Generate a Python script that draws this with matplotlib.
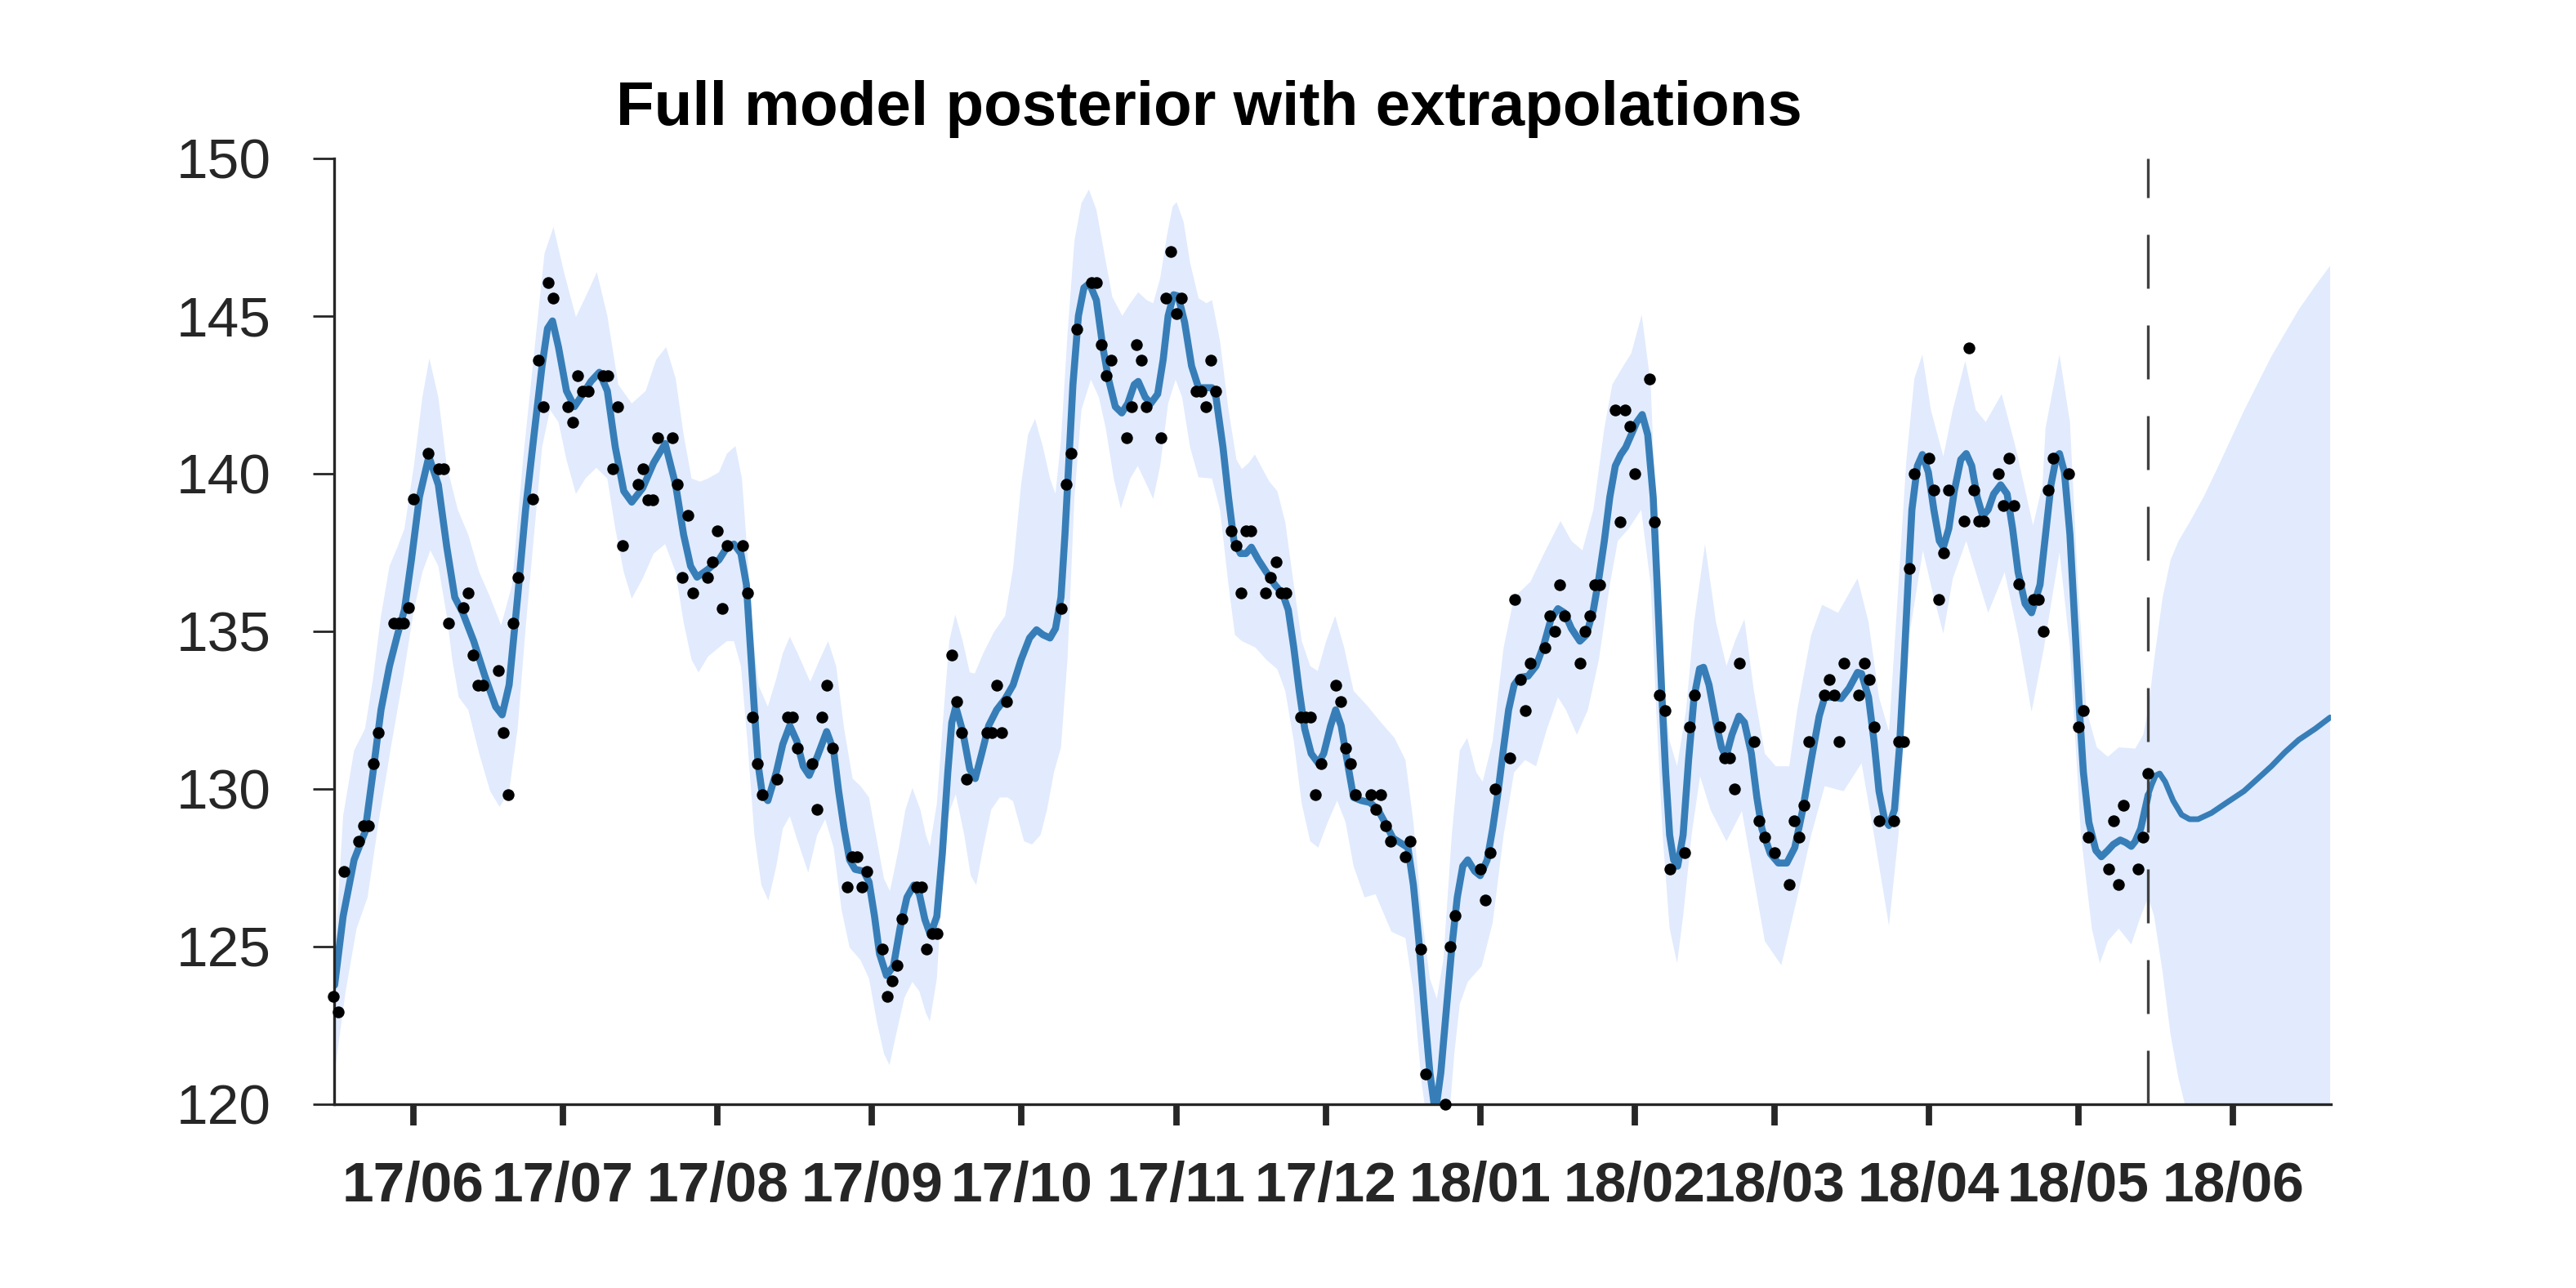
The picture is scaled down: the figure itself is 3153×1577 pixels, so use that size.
import numpy as np
import matplotlib
matplotlib.use('Agg')
import matplotlib.pyplot as plt
import matplotlib.dates as mdates
import pandas as pd

# days are counted from ref_date
ref_date = '2017-06-01'
split_day = 348.0   # last observation, start of extrapolation

obs_day = [-16, -15, -14, -11, -10, -9, -8, -7, -4, -3, -2, -1, 0, 3, 5, 6, 7,
           10, 11, 12, 13, 14, 17, 18, 19, 20, 21, 24, 25, 26, 27, 28, 31, 32,
           33, 34, 35, 38, 39, 40, 41, 42, 45, 46, 47, 48, 49, 52, 53, 54, 55,
           56, 59, 60, 61, 62, 63, 66, 67, 68, 69, 70, 73, 75, 76, 77, 80, 81,
           82, 83, 84, 87, 88, 89, 90, 91, 94, 95, 96, 97, 98, 101, 102, 103,
           104, 105, 108, 109, 110, 111, 115, 116, 117, 118, 119, 130, 131,
           132, 133, 136, 137, 138, 139, 140, 143, 144, 145, 146, 147, 150,
           151, 152, 153, 154, 157, 158, 159, 160, 161, 164, 165, 166, 167,
           168, 171, 172, 173, 174, 175, 178, 179, 180, 181, 182, 185, 186,
           187, 188, 189, 192, 193, 194, 195, 196, 199, 200, 202, 203, 207,
           208, 209, 214, 215, 216, 217, 220, 221, 222, 223, 224, 227, 228,
           229, 230, 231, 234, 235, 236, 237, 238, 241, 242, 243, 244, 245,
           248, 249, 250, 251, 252, 255, 256, 257, 262, 263, 264, 265, 266,
           269, 270, 271, 273, 276, 277, 278, 279, 280, 283, 284, 285, 286,
           287, 290, 291, 292, 293, 294, 297, 298, 299, 300, 301, 304, 305,
           306, 307, 308, 311, 312, 313, 314, 315, 318, 319, 320, 321, 322,
           325, 326, 327, 328, 329, 332, 334, 335, 336, 340, 341, 342, 343,
           346, 347, 348]
obs_val = [123.41, 122.92, 127.36, 128.33, 128.83, 128.83, 130.79, 131.79,
           135.24, 135.24, 135.24, 135.73, 139.19, 140.65, 140.16, 140.16,
           135.24, 135.73, 136.21, 134.25, 133.27, 133.27, 133.75, 131.79,
           129.82, 135.24, 136.71, 139.19, 143.59, 142.12, 146.05, 145.56,
           142.12, 141.63, 143.10, 142.62, 142.62, 143.10, 143.10, 140.16,
           142.12, 137.70, 139.66, 140.16, 139.17, 139.17, 141.13, 141.13,
           139.66, 136.71, 138.67, 136.21, 136.71, 137.20, 138.17, 135.71,
           137.70, 137.70, 136.21, 132.28, 130.79, 129.82, 130.30, 132.28,
           132.28, 131.29, 130.79, 129.33, 132.28, 133.27, 131.29, 126.87,
           127.84, 127.84, 126.87, 127.36, 124.90, 123.41, 123.91, 124.40,
           125.87, 126.87, 126.87, 124.90, 125.40, 125.40, 134.25, 132.76,
           131.79, 130.30, 131.79, 131.79, 133.27, 131.79, 132.76, 135.71,
           139.66, 140.63, 144.58, 146.05, 146.05, 144.09, 143.10, 143.59,
           141.13, 142.12, 144.09, 143.59, 142.12, 141.13, 145.56, 147.04,
           145.06, 145.56, 142.62, 142.62, 142.12, 143.59, 142.62, 138.17,
           137.70, 136.21, 138.17, 138.17, 136.21, 136.71, 137.20, 136.21,
           136.21, 132.28, 132.28, 132.28, 129.82, 130.79, 133.27, 132.76,
           131.29, 130.79, 129.82, 129.82, 129.33, 129.82, 128.83, 128.33,
           127.84, 128.33, 124.90, 120.95, 120.00, 124.98, 125.97, 127.46,
           126.47, 127.96, 129.98, 130.97, 135.99, 133.47, 132.48, 133.97,
           134.46, 135.48, 134.98, 136.47, 135.48, 133.97, 134.98, 135.48,
           136.47, 136.47, 142.02, 138.47, 142.02, 141.49, 139.98, 143.00,
           138.47, 132.98, 132.48, 127.46, 127.98, 131.96, 132.98, 131.96,
           130.97, 130.97, 129.98, 133.97, 131.49, 128.97, 128.47, 127.98,
           126.96, 128.97, 128.47, 129.46, 131.49, 132.98, 133.47, 132.98,
           131.49, 133.97, 132.98, 133.97, 133.47, 131.96, 128.97, 128.97,
           131.49, 131.49, 136.98, 139.98, 140.48, 139.48, 135.99, 137.48,
           139.48, 138.49, 143.99, 139.48, 138.49, 138.49, 139.98, 138.99,
           140.48, 138.99, 136.49, 135.99, 135.99, 134.98, 139.48, 140.48,
           139.98, 131.96, 132.48, 128.47, 127.46, 128.97, 126.96, 129.46,
           127.46, 128.47, 130.48]

mean_day = [-15.8, -14.1, -11.9, -9.7, -8.1, -6.5, -4.8, -3.2, -1.8, -0.4,
            1.2, 3.1, 5.0, 6.7, 8.3, 9.9, 12.1, 14.3, 16.5, 17.8, 19.2, 20.9,
            22.5, 24.2, 25.8, 26.9, 27.9, 29.1, 30.7, 32.3, 34.0, 35.6, 37.3,
            38.9, 40.5, 42.2, 43.8, 46.0, 48.2, 50.5, 52.6, 54.2, 55.6, 56.9,
            59.1, 61.3, 62.9, 64.3, 65.7, 66.8, 67.6, 68.4, 69.2, 70.0, 71.1,
            72.8, 74.1, 75.5, 76.9, 78.2, 79.4, 81.0, 82.9, 84.3, 85.3, 86.4,
            87.5, 88.6, 90.3, 91.4, 92.5, 93.5, 94.9, 96.3, 97.6, 99.0, 100.4,
            101.5, 102.6, 103.7, 105.0, 106.1, 107.2, 108.0, 108.8, 110.2,
            111.6, 112.7, 114.0, 115.4, 117.0, 118.7, 120.3, 121.9, 123.6,
            125.0, 126.3, 127.7, 128.8, 129.9, 130.7, 131.5, 132.3, 133.4,
            134.5, 135.6, 137.0, 138.3, 139.4, 140.8, 142.1, 143.3, 144.6,
            145.4, 146.8, 147.9, 149.3, 150.4, 151.4, 152.5, 153.4, 154.7,
            156.1, 157.5, 158.8, 160.2, 161.0, 162.4, 163.5, 164.6, 165.9,
            167.0, 168.1, 169.5, 171.1, 172.8, 174.4, 175.5, 176.6, 177.7,
            178.8, 180.1, 181.5, 182.6, 184.0, 185.0, 186.1, 187.5, 188.6,
            190.2, 191.9, 193.5, 195.2, 196.5, 197.9, 199.5, 200.6, 201.7,
            202.8, 203.9, 205.0, 206.1, 207.2, 208.3, 209.4, 210.5, 211.5,
            212.9, 214.0, 215.4, 216.5, 217.6, 218.7, 219.7, 220.8, 221.9,
            223.6, 225.2, 226.8, 228.2, 229.6, 230.9, 232.3, 234.0, 235.3,
            236.7, 237.8, 238.9, 240.0, 241.1, 242.2, 243.2, 244.3, 245.4,
            246.5, 247.6, 248.7, 249.5, 250.4, 251.2, 252.0, 252.8, 253.6,
            254.7, 255.8, 256.9, 258.0, 258.8, 259.9, 261.3, 262.4, 263.3,
            264.5, 265.9, 267.0, 268.4, 269.5, 270.5, 272.2, 273.8, 275.5,
            277.1, 278.7, 280.4, 282.0, 283.1, 284.8, 286.4, 288.0, 289.7,
            290.5, 291.9, 293.0, 294.0, 295.1, 296.0, 297.1, 298.1, 299.0,
            299.8, 300.6, 301.7, 302.7, 303.9, 305.0, 306.1, 306.9, 308.0,
            309.1, 310.4, 311.5, 312.6, 313.7, 314.8, 315.9, 317.0, 318.4,
            319.7, 320.8, 321.9, 323.3, 324.6, 326.3, 327.4, 328.5, 329.6,
            330.2, 331.2, 332.3, 333.4, 334.2, 335.0, 336.1, 337.5, 338.6,
            339.9, 341.0, 342.4, 343.5, 344.6, 345.4, 346.5, 347.6, 348.0,
            348.7, 349.5, 350.3, 351.4, 353.0, 354.7, 356.3, 358.0, 360.7,
            363.4, 367.2, 370.0, 372.7, 375.4, 378.2, 381.5, 384.5]
mean_val = [123.77, 125.95, 127.74, 128.63, 130.52, 132.50, 133.89, 134.88,
            135.67, 137.26, 139.25, 140.54, 139.64, 137.66, 136.07, 135.58,
            134.68, 133.59, 132.60, 132.34, 133.29, 136.07, 138.85, 141.23,
            143.41, 144.60, 144.84, 144.01, 142.62, 142.12, 142.52, 142.92,
            143.21, 142.62, 140.83, 139.44, 139.09, 139.54, 140.34, 140.95,
            139.64, 138.06, 137.06, 136.71, 136.96, 137.26, 137.66, 137.76,
            137.46, 136.47, 134.48, 132.50, 130.71, 129.82, 129.62, 130.52,
            131.41, 132.00, 131.51, 130.71, 130.42, 131.01, 131.81, 131.21,
            129.92, 128.73, 127.74, 127.44, 127.38, 127.04, 125.95, 124.76,
            124.07, 124.37, 125.56, 126.55, 126.94, 126.65, 125.85, 125.36,
            125.95, 127.94, 130.52, 132.10, 132.60, 131.81, 130.62, 130.32,
            131.11, 132.00, 132.50, 132.85, 133.29, 134.09, 134.78, 135.04,
            134.88, 134.78, 135.08, 136.07, 138.06, 140.44, 142.82, 145.00,
            145.89, 146.03, 145.50, 144.01, 143.02, 142.12, 141.92, 142.22,
            142.82, 142.92, 142.42, 142.22, 142.52, 143.61, 145.00, 145.67,
            145.63, 144.80, 143.41, 142.72, 142.72, 142.72, 142.42, 140.83,
            139.25, 137.86, 137.46, 137.46, 137.66, 137.26, 136.87, 136.47,
            136.17, 135.67, 134.48, 133.10, 131.90, 131.11, 130.81, 131.11,
            132.00, 132.50, 132.00, 130.71, 129.72, 129.62, 129.56, 129.33,
            128.83, 128.43, 128.29, 128.13, 126.94, 125.16, 122.98, 120.99,
            119.70, 120.99, 122.98, 124.96, 126.55, 127.54, 127.74, 127.38,
            127.24, 127.74, 128.73, 129.92, 131.31, 132.50, 133.29, 133.53,
            133.57, 133.89, 134.58, 135.38, 135.71, 135.58, 135.08, 134.68,
            134.88, 135.67, 136.67, 137.86, 139.25, 140.24, 140.60, 140.83,
            141.23, 141.63, 141.87, 141.23, 139.25, 136.47, 133.10, 130.52,
            128.53, 127.74, 127.54, 128.53, 130.91, 132.90, 133.80, 133.85,
            133.29, 132.10, 131.31, 131.01, 131.71, 132.30, 132.10, 131.11,
            129.72, 128.73, 127.94, 127.64, 127.64, 128.13, 129.33, 130.91,
            132.30, 132.90, 132.90, 132.86, 133.19, 133.69, 133.65, 132.90,
            131.51, 129.92, 129.03, 128.83, 129.33, 131.31, 133.89, 136.47,
            138.85, 140.24, 140.60, 140.04, 138.85, 137.86, 137.66, 138.25,
            139.44, 140.44, 140.63, 140.24, 139.25, 138.65, 138.85, 139.35,
            139.64, 139.35, 138.25, 136.87, 135.87, 135.58, 136.47, 138.06,
            139.64, 140.54, 140.63, 140.04, 138.06, 134.88, 132.50, 130.52,
            128.93, 128.04, 127.84, 128.04, 128.23, 128.37, 128.29, 128.17,
            128.33, 128.73, 129.52, 129.80, 130.12, 130.42, 130.48, 130.22,
            129.62, 129.17, 129.03, 129.03, 129.23, 129.52, 129.92, 130.32,
            130.71, 131.15, 131.55, 131.90, 132.26]

upper_day = [-15.8, -14.1, -11.9, -9.7, -8.1, -6.5, -4.8, -3.2, -1.8, 0.1,
             1.8, 3.2, 5.0, 6.7, 8.9, 11.0, 13.2, 15.4, 17.6, 19.8, 22.0,
             24.2, 26.3, 28.1, 30.2, 32.6, 35.1, 36.8, 38.9, 41.1, 43.8, 46.6,
             48.7, 50.7, 52.6, 54.2, 55.8, 57.5, 59.1, 61.3, 62.9, 64.6, 65.9,
             67.0, 68.1, 69.2, 71.1, 72.8, 74.1, 75.5, 77.1, 79.6, 81.5, 83.2,
             84.8, 86.4, 88.1, 89.7, 91.4, 93.0, 94.4, 95.6, 97.4, 98.7,
             100.1, 101.7, 102.8, 103.6, 105.0, 106.4, 107.5, 108.7, 110.2,
             111.6, 112.6, 114.3, 116.5, 118.7, 120.3, 121.9, 123.3, 124.7,
             126.3, 127.7, 128.8, 129.9, 131.2, 132.6, 134.0, 135.5, 137.0,
             138.6, 140.2, 142.2, 143.8, 145.4, 147.1, 148.4, 149.8, 151.2,
             152.3, 153.1, 154.5, 155.8, 157.5, 159.1, 160.2, 161.8, 163.5,
             165.1, 166.2, 167.6, 168.8, 170.0, 171.7, 173.3, 174.9, 176.6,
             178.2, 179.9, 181.4, 183.1, 184.9, 186.7, 188.6, 191.3, 194.1,
             196.8, 199.0, 200.6, 202.3, 203.9, 205.3, 206.6, 208.3, 209.9,
             211.4, 213.2, 214.5, 216.5, 218.7, 220.8, 224.1, 226.8, 230.1,
             232.3, 234.5, 236.7, 238.9, 240.5, 242.7, 244.3, 246.4, 248.2,
             249.3, 250.6, 252.0, 253.5, 255.3, 256.9, 259.1, 261.3, 263.4,
             265.1, 267.0, 268.9, 271.1, 273.3, 276.0, 277.6, 280.4, 282.6,
             285.8, 289.7, 291.9, 294.0, 296.0, 297.9, 299.5, 301.1, 302.7,
             304.4, 306.9, 308.8, 311.3, 313.4, 315.4, 318.6, 321.4, 324.9,
             326.8, 327.4, 330.2, 332.3, 333.9, 335.6, 337.7, 339.9, 342.1,
             345.4, 347.0, 348.0, 349.2, 350.9, 352.5, 354.1, 356.3, 359.1,
             361.8, 367.3, 372.7, 378.2, 381.5, 384.5]
upper_val = [124.56, 129.13, 131.21, 131.90, 133.49, 135.48, 137.06, 137.66,
             138.25, 140.24, 142.42, 143.65, 142.42, 140.24, 138.85, 138.06,
             136.87, 136.07, 135.18, 136.47, 140.44, 143.81, 146.98, 147.82,
             146.39, 144.96, 145.79, 146.39, 145.00, 142.82, 142.22, 142.62,
             143.61, 144.01, 143.02, 141.23, 139.84, 139.74, 139.84, 140.04,
             140.63, 140.87, 139.84, 137.46, 134.88, 133.29, 132.60, 133.49,
             134.29, 134.82, 134.29, 133.39, 134.09, 134.68, 133.89, 131.90,
             130.32, 130.08, 129.72, 128.33, 127.14, 126.75, 128.13, 129.33,
             130.02, 129.33, 128.53, 128.17, 129.52, 132.50, 134.68, 135.52,
             134.68, 133.69, 133.65, 134.29, 134.98, 135.48, 137.00, 139.64,
             141.23, 141.73, 140.83, 139.84, 139.35, 141.03, 144.40, 147.38,
             148.57, 149.01, 148.37, 146.98, 145.60, 145.00, 145.40, 145.75,
             145.50, 145.40, 146.19, 147.58, 148.47, 148.61, 147.98, 146.69,
             145.56, 145.40, 145.50, 144.21, 142.02, 140.44, 140.14, 140.34,
             140.60, 140.24, 139.74, 139.44, 138.45, 136.47, 134.68, 133.89,
             133.73, 134.68, 135.48, 134.48, 133.10, 132.64, 132.10, 131.61,
             130.91, 128.93, 125.95, 123.97, 123.33, 124.56, 128.53, 131.21,
             131.61, 130.52, 130.22, 131.51, 134.48, 136.07, 136.57, 137.46,
             138.49, 137.86, 137.56, 138.85, 141.43, 142.82, 143.41, 143.81,
             145.04, 142.82, 138.45, 133.49, 131.51, 130.71, 132.50, 135.28,
             137.76, 135.28, 133.89, 134.68, 135.38, 133.10, 131.11, 130.71,
             130.71, 132.50, 134.88, 135.83, 135.58, 136.67, 135.28, 132.90,
             131.81, 136.47, 140.44, 143.02, 143.77, 142.02, 140.54, 142.02,
             143.57, 142.02, 141.63, 142.52, 140.83, 138.35, 139.64, 141.43,
             143.77, 141.63, 136.47, 132.50, 131.31, 131.01, 131.31, 131.27,
             131.71, 132.50, 134.09, 136.07, 137.26, 137.86, 138.45, 139.25,
             140.14, 142.02, 143.71, 145.20, 145.95, 146.59]

lower_day = [-15.8, -13.6, -11.4, -9.2, -7.0, -4.3, -2.1, 0.1, 1.8, 3.4, 5.0,
             6.7, 7.8, 9.1, 11.0, 13.2, 15.4, 17.3, 19.2, 20.9, 22.5, 24.2,
             25.8, 27.4, 29.1, 30.7, 32.6, 34.5, 36.7, 38.9, 40.5, 42.2, 43.8,
             46.0, 48.2, 50.5, 52.6, 54.2, 55.8, 57.2, 59.1, 61.3, 62.9, 64.3,
             65.7, 67.0, 68.4, 69.8, 71.2, 72.8, 74.1, 75.5, 77.1, 79.2, 81.0,
             82.6, 84.3, 85.9, 87.5, 89.7, 91.4, 93.0, 94.4, 95.5, 96.8, 98.5,
             100.1, 101.5, 102.8, 103.6, 105.0, 106.1, 107.2, 108.8, 110.5,
             111.8, 112.9, 114.3, 115.9, 117.6, 119.2, 120.3, 122.5, 124.1,
             125.8, 127.1, 128.5, 129.9, 131.2, 132.6, 134.0, 135.9, 137.5,
             138.9, 140.5, 141.9, 143.8, 145.3, 147.1, 148.4, 149.8, 151.4,
             152.9, 154.2, 155.8, 157.5, 160.2, 161.8, 163.5, 164.8, 166.2,
             168.9, 171.1, 173.3, 174.9, 176.6, 178.2, 179.9, 181.5, 183.4,
             185.3, 187.0, 188.6, 190.8, 193.0, 196.2, 199.0, 200.6, 202.3,
             203.4, 207.7, 208.8, 209.9, 211.5, 214.3, 216.5, 218.7, 220.8,
             223.0, 225.2, 227.4, 229.6, 231.2, 233.4, 235.6, 237.8, 240.0,
             241.6, 243.8, 246.3, 248.2, 249.3, 250.6, 252.0, 253.5, 254.7,
             256.4, 258.1, 260.2, 263.4, 266.5, 268.9, 271.1, 274.4, 277.6,
             280.4, 283.1, 286.9, 290.5, 293.0, 296.0, 297.9, 300.1, 302.8,
             305.0, 306.9, 308.8, 311.5, 315.9, 319.2, 321.9, 324.6, 327.1,
             330.2, 332.3, 334.5, 336.7, 338.3, 339.9, 342.1, 344.6, 346.5,
             348.0, 349.2, 350.9, 352.5, 354.1, 355.8, 361.8, 367.3, 372.7,
             378.2, 384.5]
lower_val = [120.99, 123.57, 125.56, 126.55, 128.93, 131.51, 133.49, 135.67,
             136.87, 137.56, 137.06, 135.48, 134.09, 132.90, 132.50, 131.11,
             129.92, 129.42, 129.92, 131.90, 135.08, 138.06, 140.83, 142.02,
             141.63, 140.44, 139.35, 139.84, 140.18, 139.84, 138.25, 136.87,
             136.03, 136.67, 137.46, 137.76, 136.87, 135.28, 134.09, 133.69,
             134.19, 134.48, 134.68, 134.68, 133.89, 131.51, 128.53, 126.94,
             126.45, 127.54, 128.73, 129.13, 128.33, 127.34, 128.53, 129.03,
             128.13, 126.15, 124.96, 124.56, 123.97, 122.58, 121.59, 121.23,
             122.18, 123.37, 123.87, 123.57, 122.88, 122.62, 123.97, 126.94,
             129.13, 129.82, 128.53, 127.24, 126.94, 128.13, 129.33, 129.72,
             129.72, 129.60, 128.33, 128.23, 128.53, 129.33, 130.52, 131.31,
             134.09, 139.25, 142.02, 142.98, 142.42, 141.43, 139.84, 138.89,
             139.84, 140.24, 139.64, 139.19, 140.24, 142.22, 142.98, 142.42,
             140.83, 139.88, 139.84, 138.85, 136.47, 134.88, 134.68, 134.48,
             134.09, 133.79, 133.10, 131.51, 129.52, 128.33, 128.13, 128.93,
             129.62, 128.93, 127.54, 126.55, 126.65, 125.46, 125.26, 123.57,
             120.60, 119.40, 119.40, 121.59, 123.17, 123.87, 124.37, 125.75,
             128.53, 130.52, 130.91, 130.71, 131.90, 132.90, 132.50, 131.71,
             132.50, 134.09, 136.47, 137.86, 138.25, 138.85, 136.47, 132.50,
             128.53, 125.56, 124.46, 125.95, 128.53, 130.40, 129.33, 128.33,
             129.29, 127.14, 125.16, 124.40, 126.55, 128.53, 130.08, 129.92,
             130.81, 128.53, 125.65, 128.53, 134.88, 137.56, 136.07, 134.92,
             136.67, 137.86, 135.58, 136.87, 134.88, 132.44, 134.48, 137.50,
             134.48, 128.53, 125.56, 124.46, 125.16, 125.56, 125.06, 125.95,
             126.55, 125.95, 124.17, 122.18, 120.79, 119.70, 118.32, 117.82,
             117.71, 117.90, 117.93]

month_ticks = pd.date_range('2017-06-01', '2018-06-01', freq='MS')
y_ticks = [120, 125, 130, 135, 140, 145, 150]


def main():
    plt.rcParams['font.family'] = ['Liberation Sans', 'DejaVu Sans']
    W, H, dpi = 3153, 1577, 200
    fig = plt.figure(figsize=(W/dpi, H/dpi), dpi=dpi)
    ax = fig.add_axes([409.3/W, 1-1351.5/H, (2852.7-409.3)/W, (1351.5-193.8)/H])

    t0 = mdates.date2num(np.datetime64(ref_date))
    xm = t0 + np.array(mean_day)
    ym = np.array(mean_val)

    # posterior band as one polygon: upper edge, then lower edge backwards
    bx = np.r_[t0 + np.array(upper_day), (t0 + np.array(lower_day))[::-1]]
    by = np.r_[upper_val, lower_val[::-1]]
    ax.fill(bx, by, color='#e1ebfd', lw=0, zorder=1)

    split = t0 + split_day
    pre = xm <= split
    post = xm >= split
    ax.plot(xm[pre], ym[pre], color='#377eb8', lw=3.1, zorder=2,
            solid_capstyle='round', solid_joinstyle='round')
    ax.plot(xm[post], ym[post], color='#377eb8', lw=2.5, zorder=2,
            solid_capstyle='round', solid_joinstyle='round')
    ax.plot(t0 + np.array(obs_day), obs_val, 'o', color='k', ms=5.2, mew=0,
            zorder=4, clip_on=False)
    ax.axvline(split, color='#404040', lw=1.2, dashes=(19.8, 13.5), zorder=5)

    ax.set_xlim(t0 - 15.85, t0 + 384.6)
    ax.set_ylim(120, 150)
    ax.set_yticks(y_ticks)
    ax.set_xticks(mdates.date2num(month_ticks))
    ax.set_xticklabels(month_ticks.strftime('%y/%m'), fontweight='bold')

    for side in ['top', 'right']:
        ax.spines[side].set_visible(False)
    for side in ['left', 'bottom']:
        ax.spines[side].set_linewidth(1.2)
        ax.spines[side].set_color('#262626')
    ax.tick_params(axis='y', direction='out', length=9.4, width=1.0, pad=18.5,
                   labelsize=25, color='#262626', labelcolor='#262626')
    ax.tick_params(axis='x', direction='out', length=9.4, width=2.8, pad=15.5,
                   labelsize=25, color='#262626', labelcolor='#262626')

    fig.text(1480/W, 1-153.3/H, 'Full model posterior with extrapolations',
             ha='center', va='baseline', fontsize=27.5, fontweight='bold',
             color='k')
    fig.savefig('out.png', dpi=dpi)


main()
